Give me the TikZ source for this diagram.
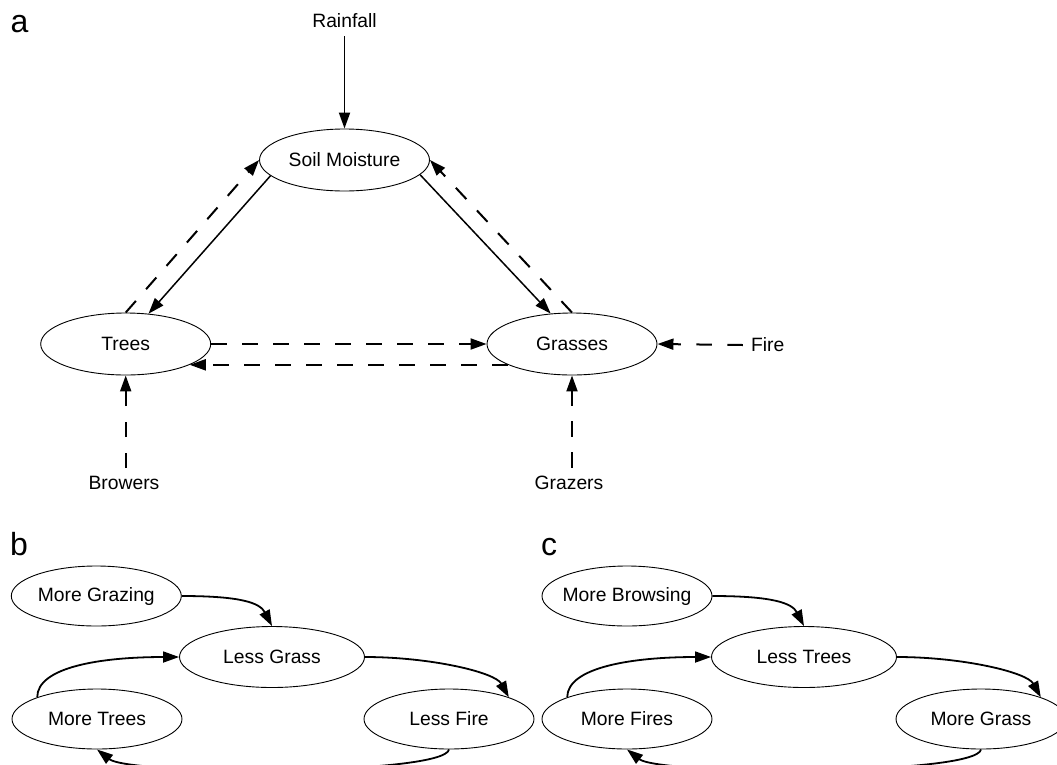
\documentclass[tikz,border=0pt]{standalone}
\usepackage{fontspec}
\setmainfont{Liberation Sans}
\usetikzlibrary{shapes.geometric,arrows.meta}
\begin{document}
\begin{tikzpicture}[x=1pt,y=-1pt,
  every node/.style={font=\fontsize{19.3}{23}\selectfont},
  ell/.style={ellipse,draw,line width=0.9pt,minimum width=170pt,minimum height=62pt,inner xsep=-12pt,inner ysep=0pt},
  ellb/.style={ell,minimum height=60pt},
  wide/.style={ell,minimum width=185pt,minimum height=61pt},
  lbl/.style={inner sep=8pt},
  panel/.style={anchor=base west,inner sep=0pt,font=\fontsize{32}{32}\selectfont},
  headed/.style={-{Triangle[length=16pt,width=11pt]}},
  solidarrow/.style={headed,line width=1.9pt},
  thinarrow/.style={headed,line width=1.5pt},
  dasharrow/.style={headed,line width=2pt,dash pattern=on 15.5pt off 15.5pt},
  curvearrow/.style={headed,line width=1.8pt}
]
\clip (0,0) rectangle (1057,764);

% ---------- panel a ----------
\node[panel] (la) at (10.5,32) {a};
\node[lbl] (rain) at (344.5,21) {Rainfall};
\node[ell] (soil) at (344.5,160) {Soil Moisture};
\node[ell] (trees) at (125.7,344) {Trees};
\node[ell] (grasses) at (572,344) {Grasses};
\node[lbl] (fire) at (767.7,345) {Fire};
\node[lbl] (browers) at (124,483) {Browers};
\node[lbl] (grazers) at (569,483) {Grazers};

\draw[solidarrow] (rain) -- (soil);
\draw[thinarrow] (soil.192.7) -- (trees.53.2);
\draw[dasharrow] (trees.north) -- (soil.west);
\draw[thinarrow] (soil.-11.2) -- (grasses.125.6);
\draw[dasharrow] (grasses.north) -- (soil.east);
\draw[dasharrow] (trees.east) -- (grasses.west);
\draw[dasharrow] (grasses.198.6) -- (trees.-18.6);
\draw[dasharrow] (fire.west) -- (grasses.east);
\draw[dasharrow] (browers.north -| trees.south) -- (trees.south);
\draw[dasharrow] (grazers.north -| grasses.south) -- (grasses.south);

% ---------- panel b ----------
\node[panel] (lb) at (10,555) {b};
\node[ellb] (grazing) at (96.3,596) {More Grazing};
\node[wide] (lessgrass) at (272,657) {Less Grass};
\node[ellb] (moretreesb) at (97,719) {More Trees};
\node[ellb] (lessfire) at (449,719) {Less Fire};

\draw[curvearrow] (grazing.east) .. controls +(60,0) and +(-12,-23) .. (lessgrass.north);
\draw[curvearrow] (moretreesb.160) .. controls +(0,-30) and +(-79,0) .. (lessgrass.west);
\draw[curvearrow] (lessgrass.east) .. controls +(65.6,0) and +(-13.8,-25) .. (lessfire.20);
\draw[curvearrow] (lessfire.south) .. controls +(-4.6,26) and +(33,26) .. (moretreesb.south);

% ---------- panel c ----------
\node[panel] (lc) at (541,555) {c};
\node[ellb] (browsing) at (627,596) {More Browsing};
\node[wide] (lesstrees) at (804,657) {Less Trees};
\node[ellb] (morefires) at (627,719) {More Fires};
\node[ellb] (moregrass) at (981,719) {More Grass};

\draw[curvearrow] (browsing.east) .. controls +(60,0) and +(-12,-23) .. (lesstrees.north);
\draw[curvearrow] (morefires.160) .. controls +(0,-30) and +(-79,0) .. (lesstrees.west);
\draw[curvearrow] (lesstrees.east) .. controls +(65.6,0) and +(-13.8,-25) .. (moregrass.20);
\draw[curvearrow] (moregrass.south) .. controls +(-4.6,26) and +(33,26) .. (morefires.south);
\end{tikzpicture}
\end{document}
